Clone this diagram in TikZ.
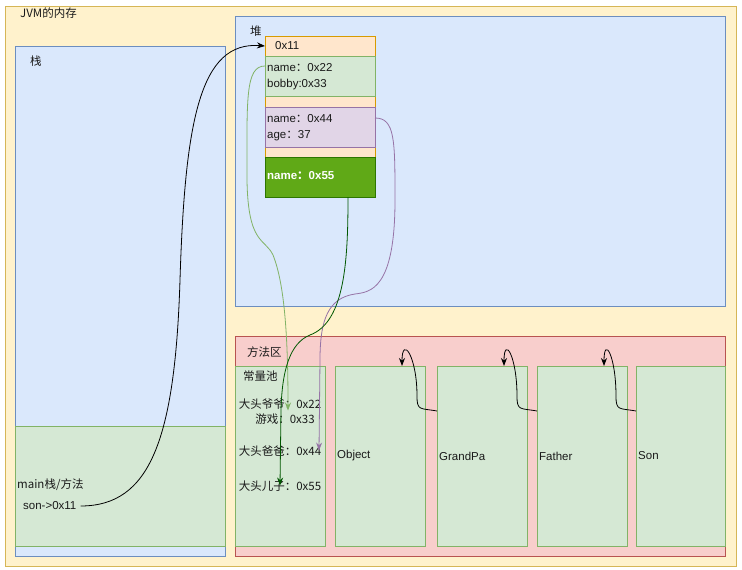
\documentclass[tikz,border=0pt]{standalone}
\usepackage{xcolor}
\usepackage{fontspec}
\setmainfont{Liberation Sans}
\newfontfamily\cjk{Noto Sans CJK SC}
\usepackage{tikz}
\usetikzlibrary{arrows.meta}
\definecolor{jvmFill}{HTML}{FFF2CC}
\definecolor{jvmLine}{HTML}{D6B656}
\definecolor{blueFill}{HTML}{DAE8FC}
\definecolor{blueLine}{HTML}{6C8EBF}
\definecolor{greenFill}{HTML}{D5E8D4}
\definecolor{greenLine}{HTML}{82B366}
\definecolor{redFill}{HTML}{F8CECC}
\definecolor{redLine}{HTML}{B85450}
\definecolor{orangeFill}{HTML}{FFE6CC}
\definecolor{orangeLine}{HTML}{D79B00}
\definecolor{purpleFill}{HTML}{E1D5E7}
\definecolor{purpleLine}{HTML}{9673A6}
\definecolor{darkFill}{HTML}{60A917}
\definecolor{darkLine}{HTML}{2D7600}
\definecolor{arrowDark}{HTML}{005700}
\definecolor{textColor}{HTML}{1A1A1A}

\begin{document}
\begin{tikzpicture}[
        x=1pt, y=-1pt,
        box/.style={anchor=north west, inner sep=0pt, outer sep=0pt, line width=0.8pt},
        jvmBox/.style={box, draw=jvmLine, fill=jvmFill},
        blueBox/.style={box, draw=blueLine, fill=blueFill},
        greenBox/.style={box, draw=greenLine, fill=greenFill},
        redBox/.style={box, draw=redLine, fill=redFill},
        orangeBox/.style={box, draw=orangeLine, fill=orangeFill},
        purpleBox/.style={box, draw=purpleLine, fill=purpleFill},
        darkBox/.style={box, draw=darkLine, fill=darkFill},
        label/.style={anchor=west, inner sep=0pt, text=textColor, font=\fontsize{11.5}{13.5}\selectfont},
        rows/.style={label, align=left, font=\fontsize{11.5}{16}\selectfont},
        poolText/.style={inner sep=0pt, text=textColor, font=\fontsize{11.5}{13.5}\cjk},
        link/.style={line width=0.8pt, -{Stealth[length=8pt,width=6pt]}}
    ]
        \useasboundingbox (0,0) rectangle (742,570);
        \fill[white] (0,0) rectangle (742,570);

        % JVM memory
        \node[jvmBox, minimum width=731pt, minimum height=560pt] (jvm) at (5,6) {};
        \node[label, font=\fontsize{11.5}{13.5}\cjk] (jvmTitle) at (20,13) {JVM的内存};

        % Stack
        \node[blueBox, minimum width=210pt, minimum height=510pt] (stack) at (15,46) {};
        \node[label, font=\fontsize{11.5}{13.5}\cjk] (stackTitle) at (30,61) {栈};
        \node[greenBox, minimum width=210pt, minimum height=120pt] (mainFrame) at (15,426) {};
        \node[label, font=\fontsize{11.5}{13.5}\cjk] (mainTitle) at (17,485) {main栈/方法};
        \node[label, inner xsep=4pt] (sonRef) at (19,506) {son->0x11};

        % Heap
        \node[blueBox, minimum width=490pt, minimum height=290pt] (heap) at (235,16) {};
        \node[label, font=\fontsize{11.5}{13.5}\cjk] (heapTitle) at (250,31) {堆};
        \node[orangeBox, minimum width=110pt, minimum height=161pt] (sonObj) at (265,36) {};
        \node[orangeBox, minimum width=110pt, minimum height=20pt] (addr) at (265,36) {};
        \node[label] (addrText) at (275,46) {0x11};
        \node[greenBox, minimum width=110pt, minimum height=40pt] (gpaRow) at (265,56) {};
        \node[rows] (gpaText) at (267,77) {name{\cjk ：}0x22\\bobby:0x33};
        \node[purpleBox, minimum width=110pt, minimum height=40pt] (dadRow) at (265,107) {};
        \node[rows] (dadText) at (267,128) {name{\cjk ：}0x44\\age{\cjk ：}37};
        \node[darkBox, minimum width=110pt, minimum height=40pt] (sonRow) at (265,157) {};
        \node[label, text=white, font=\fontsize{11.5}{13.5}\bfseries] (sonText) at (267,176) {name{\cjk ：}0x55};

        % Method area
        \node[redBox, minimum width=490pt, minimum height=220pt] (methodArea) at (235,336) {};
        \node[label, font=\fontsize{11.5}{13.5}\cjk] (methodTitle) at (247,352) {方法区};
        \node[greenBox, minimum width=90pt, minimum height=180pt] (pool) at (235,366) {};
        \node[label, font=\fontsize{11.5}{13.5}\cjk] (poolTitle) at (243,376) {常量池};
        \node[poolText] (gpaName) at (280,404) {大头爷爷：0x22};
        \node[poolText] (gameName) at (285,419) {游戏：0x33};
        \node[poolText] (dadName) at (280,451) {大头爸爸：0x44};
        \node[poolText] (sonName) at (280,486) {大头儿子：0x55};

        % Classes
        \node[greenBox, minimum width=90pt, minimum height=180pt] (object) at (335,366) {};
        \node[greenBox, minimum width=90pt, minimum height=180pt] (grandpa) at (437,366) {};
        \node[greenBox, minimum width=90pt, minimum height=180pt] (father) at (537,366) {};
        \node[greenBox, minimum width=89pt, minimum height=180pt] (son) at (636,366) {};
        \node[label] (objectText) at (337,456) {Object};
        \node[label] (grandpaText) at (439,456) {GrandPa};
        \node[label] (fatherText) at (539,456) {Father};
        \node[label] (sonClassText) at (638,456) {Son};

        % Inheritance arrows
        \foreach \a/\b in {son/father, father/grandpa, grandpa/object}
            \draw[link] ([yshift=-45pt]\a.north west) .. controls +(-17,-3) and +(0,15) .. ([xshift=-20pt,yshift=-30pt]\a.north west)
                .. controls +(0,-40) and +(0,-31) .. ([xshift=67pt]\b.north west);

        % References
        \draw[link] (sonRef.east) .. controls (150,506) and (175,440) .. (180,280)
            .. controls (185,120) and (200,41) .. (addr.west);
        \draw[link, greenLine] ([yshift=-10pt]gpaRow.north west) .. controls (245,66) and (247,100) .. (247,180)
            .. controls (248,245) and (265,238) .. (273,255) .. controls (285,285) and (288,340) .. ([xshift=8pt,yshift=-12pt]gpaName.north);
        \draw[link, purpleLine] ([yshift=-11pt]dadRow.north east) .. controls (395,118) and (395,140) .. (395,200)
            .. controls (395,290) and (370,292) .. (355,294) .. controls (328,298) and (320,320) .. (320,360)
            -- ([xshift=39pt,yshift=-5pt]dadName.north);
        \draw[link, arrowDark] ([xshift=28pt]sonRow.south) .. controls (348,260) and (345,322) .. (310,335)
            .. controls (290,343) and (282,370) .. (281,410) -- ([yshift=-5pt]sonName.north);
    \end{tikzpicture}
\end{document}
